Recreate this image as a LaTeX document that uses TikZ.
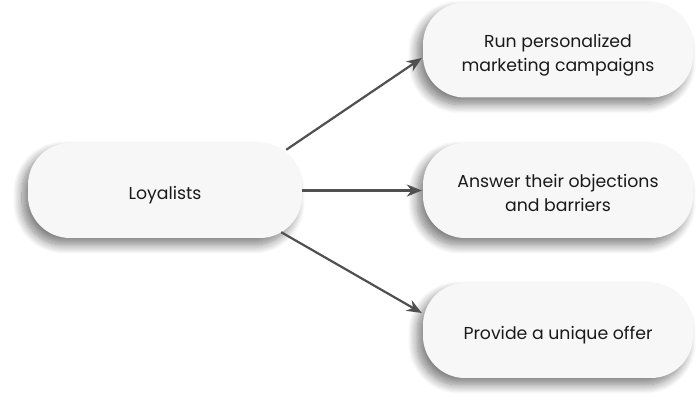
\documentclass[tikz,border=0pt]{standalone}
\usepackage{fontspec}
\setmainfont{Poppins}
\usetikzlibrary{arrows.meta,shadows.blur,calc}
\definecolor{boxfill}{HTML}{F7F7F7}
\definecolor{arrowc}{HTML}{505050}
\definecolor{txt}{HTML}{1A1A1A}
\newcommand{\pilltxt}[2]{\raisebox{#1}[0pt][0pt]{\begin{tabular}[b]{@{}c@{}}#2\end{tabular}}}
\begin{document}
\begin{tikzpicture}[x=1pt,y=1pt,
  pill/.style={fill=boxfill, rounded corners=42pt, minimum width=270pt, minimum height=95pt,
    text=txt, font=\fontsize{17.3}{24}\selectfont, inner sep=0pt,
    blur shadow={shadow xshift=-6pt, shadow yshift=-7pt, shadow blur steps=12, shadow opacity=50, shadow blur radius=9pt}},
  conn/.style={draw=arrowc, line width=2.2pt, -{Stealth[length=15pt,width=12pt]}}]
\useasboundingbox (0,0) rectangle (697,410);
\node[pill, minimum width=274pt] (L) at (165,219.5) {\pilltxt{-9.5pt}{Loyalists}};
\node[pill] (T) at (558,360) {\pilltxt{-21.5pt}{Run personalized\\marketing campaigns}};
\node[pill] (M) at (558,219.5) {\pilltxt{-21.5pt}{Answer their objections\\and barriers}};
\node[pill] (B) at (558,79.5) {\pilltxt{-9.5pt}{Provide a unique offer}};
\draw[conn] ([shift={(-16,-7)}]L.north east) -- ([shift={(-1,-8)}]T.west);
\draw[conn] (L.east) -- ([shift={(-1,0)}]M.west);
\draw[conn] ([shift={(-21,6)}]L.south east) -- ([shift={(-1,17.5)}]B.west);
\end{tikzpicture}
\end{document}
